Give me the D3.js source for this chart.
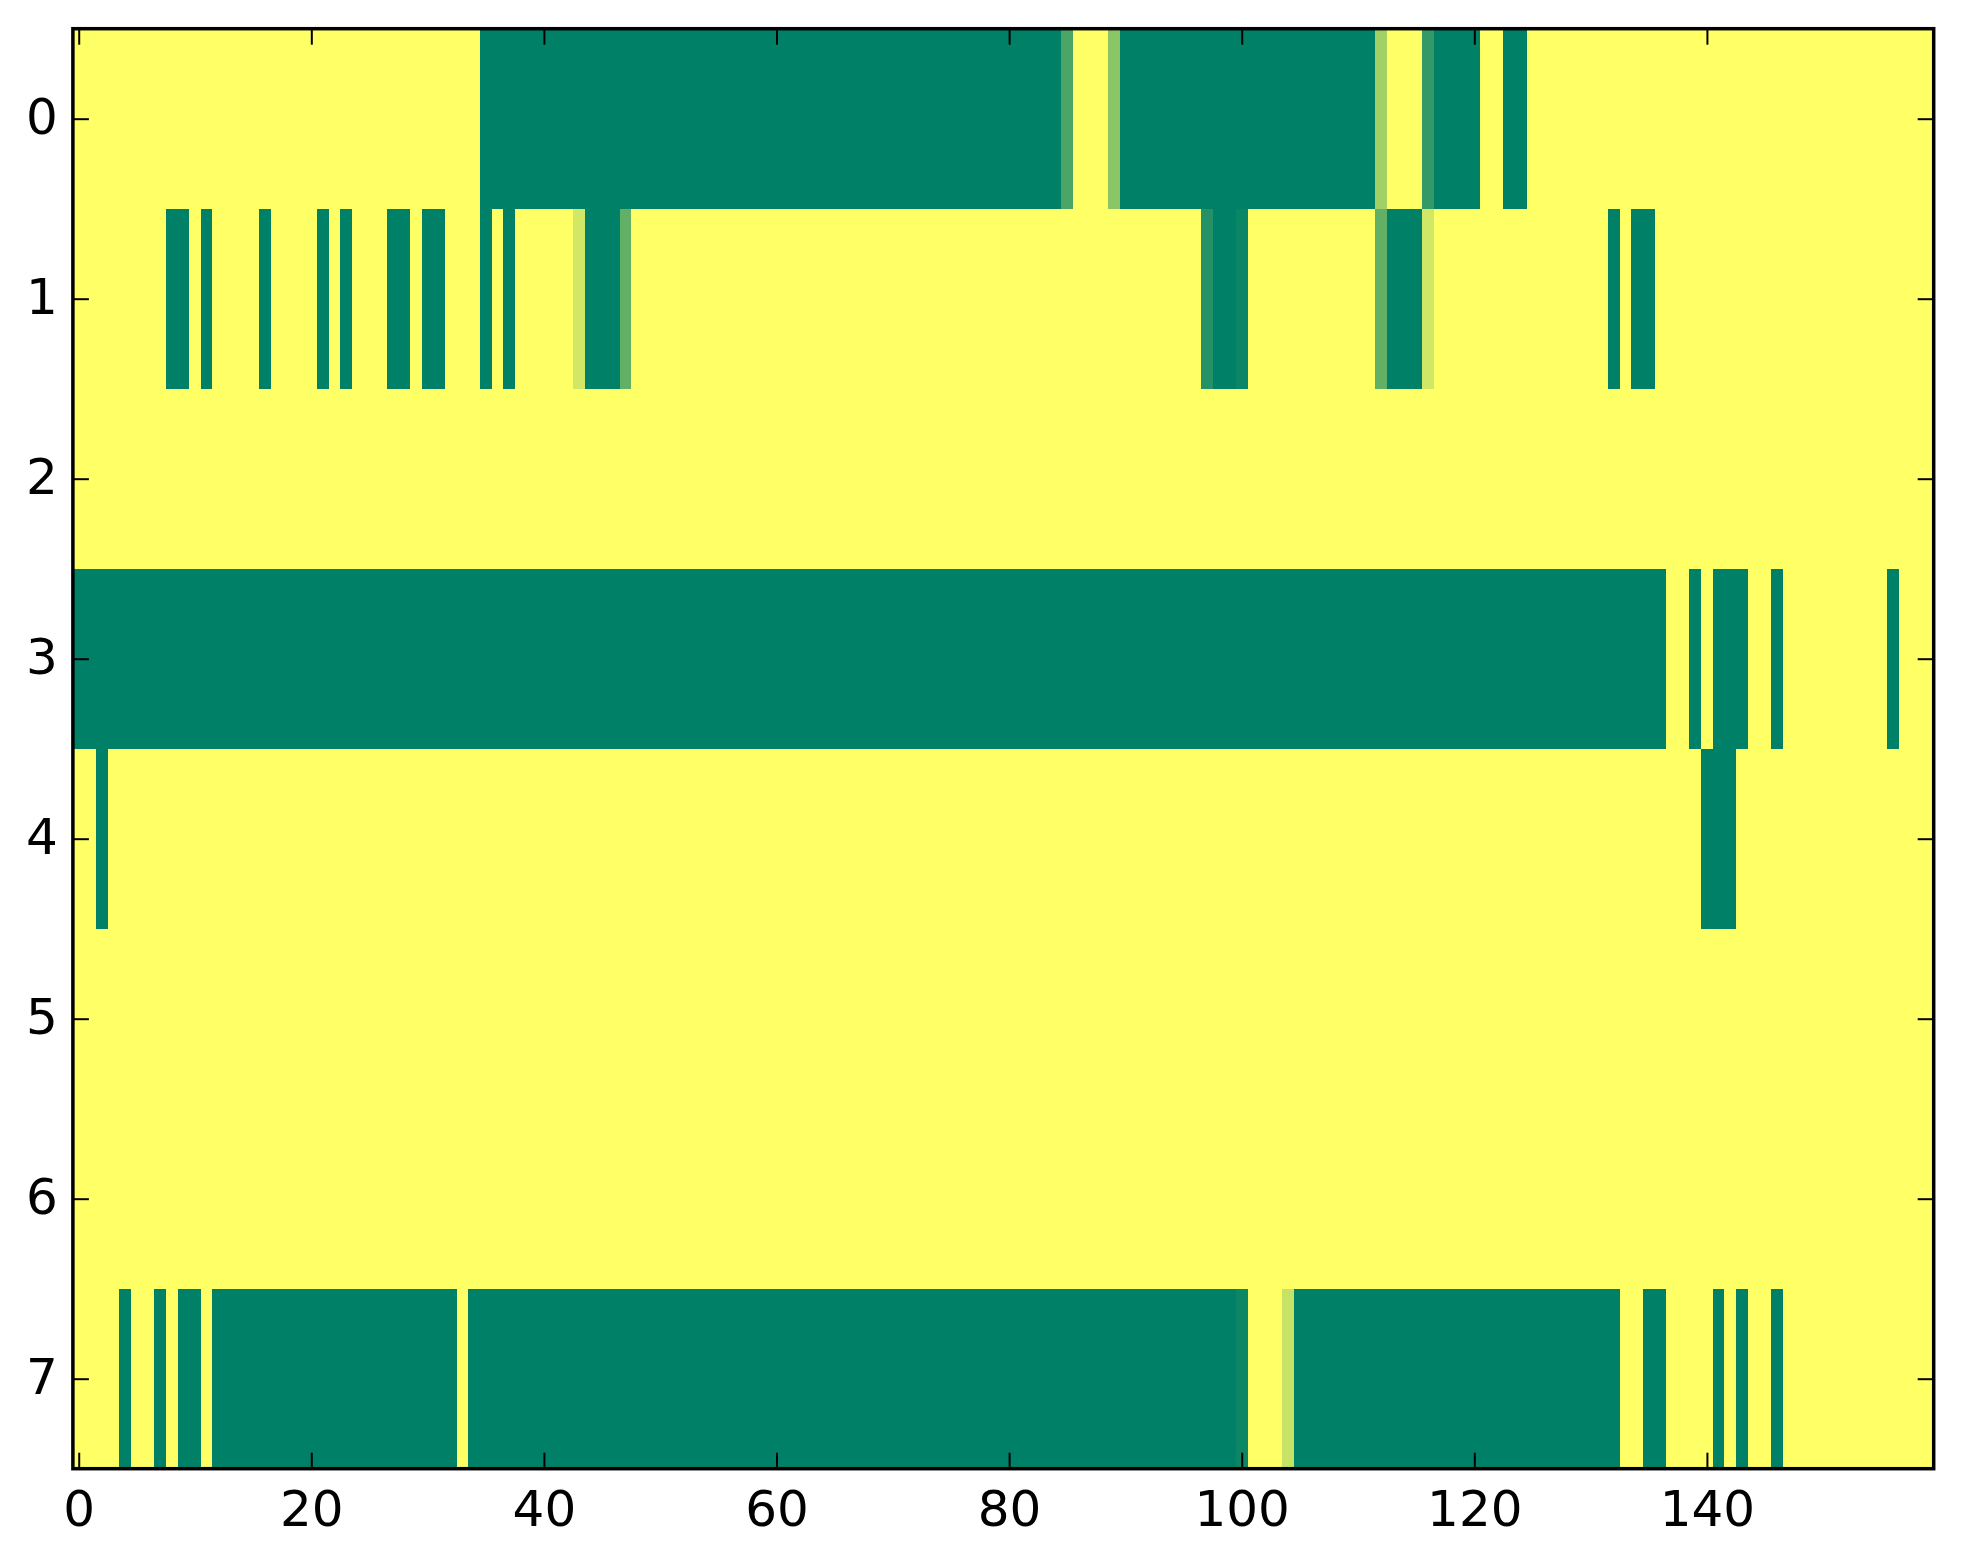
<!DOCTYPE html>
<html>
<head>
<meta charset="utf-8">
<script src="https://cdn.jsdelivr.net/npm/d3@7"></script>
<style>
  body { margin: 0; background: white; }
  svg text { font-family: "DejaVu Sans", sans-serif; }
</style>
</head>
<body>
<svg id="chart" width="1963" height="1564"></svg>
<script>
// one array per row of the image, 160 cells each (0 = green, 1 = yellow)
let row0 = [
  1,1,1,1,1,1,1,1,1,1, 1,1,1,1,1,1,1,1,1,1,
  1,1,1,1,1,1,1,1,1,1, 1,1,1,1,1,0,0,0,0,0,
  0,0,0,0,0,0,0,0,0,0, 0,0,0,0,0,0,0,0,0,0,
  0,0,0,0,0,0,0,0,0,0, 0,0,0,0,0,0,0,0,0,0,
  0,0,0,0,0,.29,1,1,1,.54, 0,0,0,0,0,0,0,0,0,0,
  0,0,0,0,0,0,0,0,0,0, 0,0,.63,1,1,1,.2,0,0,0,
  0,1,1,0,0,1,1,1,1,1, 1,1,1,1,1,1,1,1,1,1,
  1,1,1,1,1,1,1,1,1,1, 1,1,1,1,1,1,1,1,1,1
];
let row1 = [
  1,1,1,1,1,1,1,1,0,0, 1,0,1,1,1,1,0,1,1,1,
  1,0,1,0,1,1,1,0,0,1, 0,0,1,1,1,0,1,0,1,1,
  1,1,1,.82,0,0,0,.38,1,1, 1,1,1,1,1,1,1,1,1,1,
  1,1,1,1,1,1,1,1,1,1, 1,1,1,1,1,1,1,1,1,1,
  1,1,1,1,1,1,1,1,1,1, 1,1,1,1,1,1,1,.14,0,0,
  .04,1,1,1,1,1,1,1,1,1, 1,1,.38,0,0,0,.82,1,1,1,
  1,1,1,1,1,1,1,1,1,1, 1,1,0,1,0,0,1,1,1,1,
  1,1,1,1,1,1,1,1,1,1, 1,1,1,1,1,1,1,1,1,1
];
let row2 = [
  1,1,1,1,1,1,1,1,1,1, 1,1,1,1,1,1,1,1,1,1,
  1,1,1,1,1,1,1,1,1,1, 1,1,1,1,1,1,1,1,1,1,
  1,1,1,1,1,1,1,1,1,1, 1,1,1,1,1,1,1,1,1,1,
  1,1,1,1,1,1,1,1,1,1, 1,1,1,1,1,1,1,1,1,1,
  1,1,1,1,1,1,1,1,1,1, 1,1,1,1,1,1,1,1,1,1,
  1,1,1,1,1,1,1,1,1,1, 1,1,1,1,1,1,1,1,1,1,
  1,1,1,1,1,1,1,1,1,1, 1,1,1,1,1,1,1,1,1,1,
  1,1,1,1,1,1,1,1,1,1, 1,1,1,1,1,1,1,1,1,1
];
let row3 = [
  0,0,0,0,0,0,0,0,0,0, 0,0,0,0,0,0,0,0,0,0,
  0,0,0,0,0,0,0,0,0,0, 0,0,0,0,0,0,0,0,0,0,
  0,0,0,0,0,0,0,0,0,0, 0,0,0,0,0,0,0,0,0,0,
  0,0,0,0,0,0,0,0,0,0, 0,0,0,0,0,0,0,0,0,0,
  0,0,0,0,0,0,0,0,0,0, 0,0,0,0,0,0,0,0,0,0,
  0,0,0,0,0,0,0,0,0,0, 0,0,0,0,0,0,0,0,0,0,
  0,0,0,0,0,0,0,0,0,0, 0,0,0,0,0,0,0,1,1,0,
  1,0,0,0,1,1,0,1,1,1, 1,1,1,1,1,1,0,1,1,1
];
let row4 = [
  1,1,0,1,1,1,1,1,1,1, 1,1,1,1,1,1,1,1,1,1,
  1,1,1,1,1,1,1,1,1,1, 1,1,1,1,1,1,1,1,1,1,
  1,1,1,1,1,1,1,1,1,1, 1,1,1,1,1,1,1,1,1,1,
  1,1,1,1,1,1,1,1,1,1, 1,1,1,1,1,1,1,1,1,1,
  1,1,1,1,1,1,1,1,1,1, 1,1,1,1,1,1,1,1,1,1,
  1,1,1,1,1,1,1,1,1,1, 1,1,1,1,1,1,1,1,1,1,
  1,1,1,1,1,1,1,1,1,1, 1,1,1,1,1,1,1,1,1,1,
  0,0,0,1,1,1,1,1,1,1, 1,1,1,1,1,1,1,1,1,1
];
let row5 = row2.slice();
let row6 = row2.slice();
let row7 = [
  1,1,1,1,0,1,1,0,1,0, 0,1,0,0,0,0,0,0,0,0,
  0,0,0,0,0,0,0,0,0,0, 0,0,0,1,0,0,0,0,0,0,
  0,0,0,0,0,0,0,0,0,0, 0,0,0,0,0,0,0,0,0,0,
  0,0,0,0,0,0,0,0,0,0, 0,0,0,0,0,0,0,0,0,0,
  0,0,0,0,0,0,0,0,0,0, 0,0,0,0,0,0,0,0,0,0,
  .05,1,1,1,.78,0,0,0,0,0, 0,0,0,0,0,0,0,0,0,0,
  0,0,0,0,0,0,0,0,0,0, 0,0,0,1,1,0,0,1,1,1,
  1,0,1,0,1,1,0,1,1,1, 1,1,1,1,1,1,1,1,1,1
];
let rows = [row0, row1, row2, row3, row4, row5, row6, row7];

let xTicks = [0, 20, 40, 60, 80, 100, 120, 140];
let yTicks = [0, 1, 2, 3, 4, 5, 6, 7];

let plot = { left: 72.9, right: 1933.7, top: 28.7, bottom: 1468.7 };
let nCols = row0.length;

let svg = d3.select("#chart");

let x = d3.scaleLinear().domain([-0.5, nCols - 0.5]).range([plot.left, plot.right]);
let y = d3.scaleLinear().domain([-0.5, rows.length - 0.5]).range([plot.top, plot.bottom]);

// matplotlib "summer" colormap, linear in rgb
let color = d3.scaleLinear().domain([0, 1]).range(["rgb(0,128,102)", "rgb(255,255,102)"]);

svg.append("clipPath").attr("id", "clip")
  .append("rect")
  .attr("x", plot.left).attr("y", plot.top)
  .attr("width", plot.right - plot.left).attr("height", plot.bottom - plot.top);

let cells = [];
rows.forEach(function (r, i) {
  r.forEach(function (v, j) {
    cells.push({ row: i, col: j, value: v });
  });
});

// crisp edges + a little overlap so no seams show between equal cells
svg.append("g").attr("clip-path", "url(#clip)")
  .attr("shape-rendering", "crispEdges")
  .selectAll("rect").data(cells).join("rect")
  .attr("x", d => x(d.col - 0.5))
  .attr("y", d => y(d.row - 0.5))
  .attr("width", d => x(d.col + 0.5) - x(d.col - 0.5) + 1)
  .attr("height", d => y(d.row + 0.5) - y(d.row - 0.5) + 1)
  .attr("fill", d => color(d.value));

// ticks point inward on all four sides
let tickLen = 16;
function styleAxis(g) {
  g.select(".domain").remove();
  g.selectAll(".tick line").attr("stroke", "black").attr("stroke-width", 2);
  g.selectAll("text").attr("font-size", 50).attr("fill", "black");
}

svg.append("g").attr("transform", "translate(0," + plot.bottom + ")")
  .call(d3.axisBottom(x).tickValues(xTicks).tickSizeInner(-tickLen).tickSizeOuter(0).tickPadding(0))
  .call(styleAxis)
  .selectAll("text").attr("y", 57).attr("dy", null);

svg.append("g").attr("transform", "translate(0," + plot.top + ")")
  .call(d3.axisTop(x).tickValues(xTicks).tickSizeInner(-tickLen).tickSizeOuter(0).tickFormat(""))
  .call(styleAxis);

svg.append("g").attr("transform", "translate(" + plot.left + ",0)")
  .call(d3.axisLeft(y).tickValues(yTicks).tickSizeInner(-tickLen).tickSizeOuter(0).tickPadding(0))
  .call(styleAxis)
  .selectAll("text").attr("x", -15).attr("dy", null).attr("y", 15);

svg.append("g").attr("transform", "translate(" + plot.right + ",0)")
  .call(d3.axisRight(y).tickValues(yTicks).tickSizeInner(-tickLen).tickSizeOuter(0).tickFormat(""))
  .call(styleAxis);

// frame
svg.append("rect")
  .attr("x", plot.left).attr("y", plot.top)
  .attr("width", plot.right - plot.left).attr("height", plot.bottom - plot.top)
  .attr("fill", "none").attr("stroke", "black").attr("stroke-width", 3.5);
</script>
</body>
</html>
